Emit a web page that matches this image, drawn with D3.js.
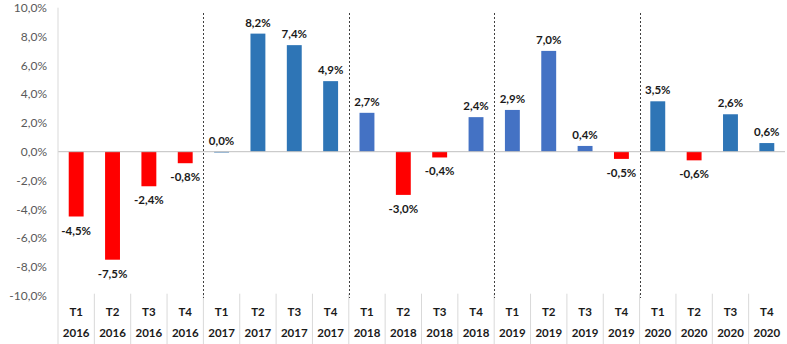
<!DOCTYPE html>
<html><head><meta charset="utf-8">
<script src="https://cdn.jsdelivr.net/npm/d3@7"></script>
<style>body{margin:0;background:#fff}svg{display:block}</style>
</head><body><div id="c"></div>
<script>
const quarters = ["T1","T2","T3","T4","T1","T2","T3","T4","T1","T2","T3","T4","T1","T2","T3","T4","T1","T2","T3","T4"];
const years = ["2016","2016","2016","2016","2017","2017","2017","2017","2018","2018","2018","2018","2019","2019","2019","2019","2020","2020","2020","2020"];
const values = [-4.5,-7.5,-2.4,-0.8, 0.0,8.2,7.4,4.9, 2.7,-3.0,-0.4,2.4, 2.9,7.0,0.4,-0.5, 3.5,-0.6,2.6,0.6];
const yTicks = [-10,-8,-6,-4,-2,0,2,4,6,8,10];
const yearBlue = {"2016":"#2E75B6","2017":"#2E75B6","2018":"#4472C4","2019":"#4472C4","2020":"#2E75B6"};

const W=787,H=344, L=58, R=785, T=7.7, B=295.7;
const svg=d3.select("#c").append("svg").attr("width",W).attr("height",H);
const font="Lato, 'Open Sans', sans-serif";
const y=d3.scaleLinear().domain([-10,10]).range([B,T]);
const idx=d3.range(values.length);
const x=d3.scaleBand().domain(idx).range([L,R]).paddingInner(0.59).paddingOuter(0.295);
const xb=d3.scaleBand().domain(idx).range([L,R]);
const fmt=v=>v.toFixed(1).replace(".",",")+"%";

// y tick labels
svg.append("g").selectAll("text").data(yTicks).join("text")
 .attr("x",47).attr("y",d=>y(d)).attr("dy","0.35em").attr("text-anchor","end")
 .attr("font-family",font).attr("font-size",12).attr("fill","#595959").text(fmt);

// category separators
svg.append("g").selectAll("line").data(d3.range(1,values.length)).join("line")
 .attr("x1",d=>xb(d)).attr("x2",d=>xb(d)).attr("y1",B-2).attr("y2",H)
 .attr("stroke","#d9d9d9").attr("stroke-width",1);

// dashed year dividers
svg.append("g").selectAll("line").data([4,8,12,16]).join("line")
 .attr("x1",d=>Math.round(xb(d))+0.5).attr("x2",d=>Math.round(xb(d))+0.5).attr("y1",13).attr("y2",298)
 .attr("stroke","#404040").attr("stroke-width",1).attr("stroke-dasharray","2,2");

// bars
svg.append("g").selectAll("rect").data(idx).join("rect")
 .attr("x",i=>x(i)).attr("width",x.bandwidth())
 .attr("y",i=>Math.min(y(values[i]),y(0))).attr("height",i=>Math.max(Math.abs(y(values[i])-y(0)),0.8))
 .attr("fill",i=>values[i]<0?"#FF0000":yearBlue[years[i]]);

// axes lines
svg.append("line").attr("x1",L).attr("x2",R).attr("y1",y(0)).attr("y2",y(0)).attr("stroke","#bfbfbf").attr("stroke-width",1);
svg.append("line").attr("x1",L).attr("x2",L).attr("y1",T).attr("y2",H).attr("stroke","#d9d9d9").attr("stroke-width",1);

// data labels
svg.append("g").selectAll("text").data(idx).join("text")
 .attr("x",i=>xb(i)+xb.bandwidth()/2)
 .attr("y",i=>values[i]<0? y(values[i])+14 : y(values[i])-11)
 .attr("dy","0.35em").attr("text-anchor","middle")
 .attr("font-family",font).attr("font-weight","bold").attr("font-size",11.5).attr("fill","#1a1a1a")
 .text(i=>fmt(values[i]));

// category labels
svg.append("g").selectAll("text").data(idx).join("text")
 .attr("x",i=>xb(i)+xb.bandwidth()/2).attr("y",312).attr("dy","0.35em").attr("text-anchor","middle")
 .attr("font-family",font).attr("font-weight","bold").attr("font-size",11.5).attr("fill","#1a1a1a")
 .text(i=>quarters[i]);
svg.append("g").selectAll("text").data(idx).join("text")
 .attr("x",i=>xb(i)+xb.bandwidth()/2).attr("y",333).attr("dy","0.35em").attr("text-anchor","middle")
 .attr("font-family",font).attr("font-weight","bold").attr("font-size",11.5).attr("fill","#1a1a1a")
 .text(i=>years[i]);
</script></body></html>
